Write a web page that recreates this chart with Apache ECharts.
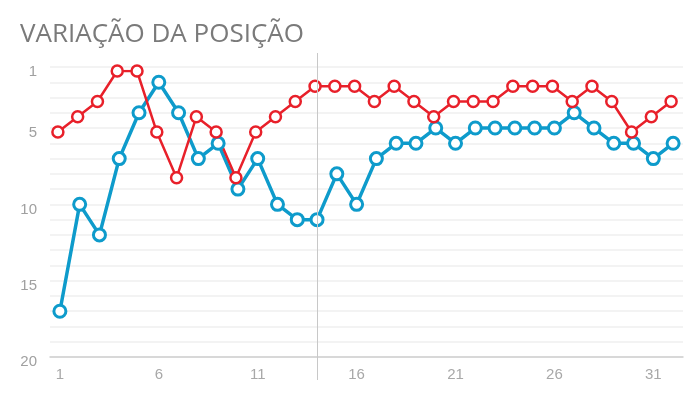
<!DOCTYPE html>
<html>
<head>
<meta charset="utf-8">
<script src="https://cdn.jsdelivr.net/npm/echarts@6/dist/echarts.min.js"></script>
<style>
  html, body { margin: 0; padding: 0; background: #fff; }
  #chart { width: 690px; height: 397px; }
</style>
</head>
<body>
<div id="chart"></div>
<script>
// rodadas 1..32
const rounds = [];
for (let i = 1; i <= 32; i++) rounds.push(String(i));

const posBlue = [17, 10, 12, 7, 4, 2, 4, 7, 6, 9, 7, 10, 11, 11, 8, 10,
                 7, 6, 6, 5, 6, 5, 5, 5, 5, 5, 4, 5, 6, 6, 7, 6];
const posRed = [5, 4, 3, 1, 1, 5, 8, 4, 5, 8, 5, 4, 3, 2, 2, 2,
                3, 2, 3, 4, 3, 3, 3, 2, 2, 2, 3, 2, 3, 5, 4, 3];
const yLabels = [1, 5, 10, 15, 20];
const markerRound = '14';

const blue = '#0e9bcb';
const red = '#e8202a';

function createChart() {
    let chartDom = document.getElementById('chart');
    let myChart = echarts.init(chartDom);

    const xBase = {
        type: 'category',
        data: rounds,
        boundaryGap: true
    };
    const yBase = {
        type: 'value',
        inverse: true,
        min: 1,
        max: 20,
        interval: 1
    };

    let option = {
        animation: false,
        title: {
            text: 'VARIAÇÃO DA POSIÇÃO',
            left: 15,
            top: 17,
            textStyle: {
                fontFamily: 'Open Sans',
                fontSize: 26,
                fontWeight: 'normal',
                color: '#7a7a7a'
            }
        },
        grid: [
            { left: 50, top: 67, width: 633, height: 290 },
            { left: 48, top: 71, width: 633, height: 290 },
            { left: 50, top: 53, width: 633, height: 327 }
        ],
        xAxis: [
            Object.assign({}, xBase, {
                gridIndex: 0,
                axisLine: { lineStyle: { color: '#cfcfcf', width: 1.5 } },
                axisTick: { show: false },
                axisLabel: {
                    interval: 4,
                    margin: 10,
                    fontFamily: 'Liberation Sans',
                    fontSize: 15,
                    color: '#a8a8a8'
                },
                splitLine: { show: false }
            }),
            Object.assign({}, xBase, { gridIndex: 1, show: false }),
            Object.assign({}, xBase, { gridIndex: 2, show: false })
        ],
        yAxis: [
            Object.assign({}, yBase, {
                gridIndex: 0,
                axisLine: { show: false },
                axisTick: { show: false },
                axisLabel: {
                    margin: 13,
                    verticalAlign: 'top',
                    lineHeight: 10,
                    fontFamily: 'Liberation Sans',
                    fontSize: 15,
                    color: '#a0a0a0',
                    formatter: function (v) {
                        return yLabels.indexOf(v) >= 0 ? String(v) : '';
                    }
                },
                splitLine: { lineStyle: { color: '#efefef', width: 1.5 } }
            }),
            Object.assign({}, yBase, { gridIndex: 1, show: false, splitLine: { show: false } }),
            Object.assign({}, yBase, { gridIndex: 2, show: false, splitLine: { show: false } })
        ],
        series: [
            {
                type: 'line',
                xAxisIndex: 2,
                yAxisIndex: 2,
                data: [],
                silent: true,
                markLine: {
                    symbol: 'none',
                    label: { show: false },
                    lineStyle: { color: '#c8c8c8', width: 1, type: 'solid' },
                    data: [{ xAxis: markerRound }]
                }
            },
            {
                name: 'azul',
                type: 'line',
                xAxisIndex: 0,
                yAxisIndex: 0,
                data: posBlue,
                symbol: 'circle',
                symbolSize: 12,
                lineStyle: { color: blue, width: 3.5 },
                itemStyle: { color: '#fff', borderColor: blue, borderWidth: 3 }
            },
            {
                name: 'vermelho',
                type: 'line',
                xAxisIndex: 1,
                yAxisIndex: 1,
                data: posRed,
                symbol: 'circle',
                symbolSize: 11,
                lineStyle: { color: red, width: 2.5 },
                itemStyle: { color: '#fff', borderColor: red, borderWidth: 2.5 }
            }
        ]
    };

    option && myChart.setOption(option);
}

document.addEventListener('DOMContentLoaded', function () {
    createChart();
});
</script>
</body>
</html>
